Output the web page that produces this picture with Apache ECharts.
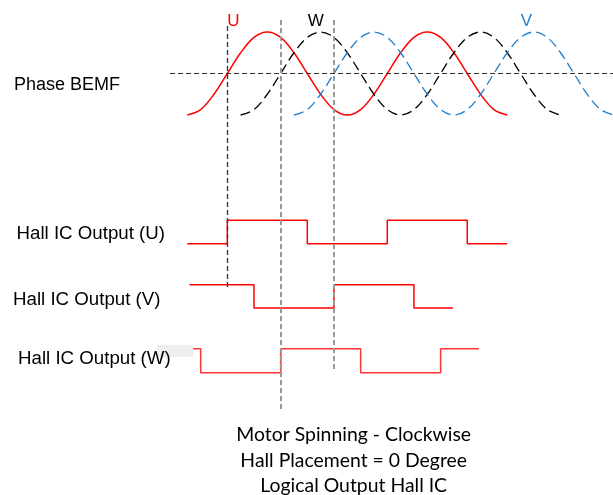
<!DOCTYPE html>
<html>
<head>
<meta charset="utf-8">
<script src="https://cdn.jsdelivr.net/npm/echarts@6/dist/echarts.min.js"></script>
<style>html,body{margin:0;padding:0;background:#fff}#c{width:613px;height:495px}</style>
</head>
<body>
<div id="c"></div>
<script>
// ---- data (electrical degrees) ----
const angles = [-90,-60,-30,0,30,60,90,120,150,180,210,240,270,300,330,360,390,420,450,480,510,540,570,600,630,660,690,720,750,780,810,840,870];
const bemfU = [-1,-0.87,-0.5,0,0.5,0.87,1,0.87,0.5,0,-0.5,-0.87,-1,-0.87,-0.5,0,0.5,0.87,1,0.87,0.5,0,-0.5,-0.87,-1,null,null,null,null,null,null,null,null];
const bemfW = [null,null,null,null,-1,-0.87,-0.5,0,0.5,0.87,1,0.87,0.5,0,-0.5,-0.87,-1,-0.87,-0.5,0,0.5,0.87,1,0.87,0.5,0,-0.5,-0.87,-1,null,null,null,null];
const bemfV = [null,null,null,null,null,null,null,null,-1,-0.87,-0.5,0,0.5,0.87,1,0.87,0.5,0,-0.5,-0.87,-1,-0.87,-0.5,0,0.5,0.87,1,0.87,0.5,0,-0.5,-0.87,-1];
const hallUAngles = [-90,0,180,360,540,630];
const hallULevels = [0,1,0,1,0,0];
const hallVAngles = [-85,60,240,420,508];
const hallVLevels = [1,0,1,0,0];
const hallWAngles = [-77,-60,120,300,480,566];
const hallWLevels = [1,0,1,0,1,1];
const markAngles = [0,120,240];
const phaseNames = ['U','W','V'];
const rowLabels = ['Phase BEMF','Hall IC Output (U)','Hall IC Output (V)','Hall IC Output (W)'];
const captionLines = ['Motor Spinning - Clockwise','Hall Placement = 0 Degree','Logical Output Hall IC'];

// ---- layout (pixel rows on an inverted y axis) ----
const bemfCenter = 73.5, bemfAmp = 41.5;
const rows = {U:{low:243.7,high:220.3}, V:{low:308,high:284.7}, W:{low:372.7,high:348.7}};
const RED = '#ff0000', BLUE = '#1f7fcf';

function bemfData(vals){ return angles.map((a,i)=> vals[i]===null ? [a,null] : [a, bemfCenter - vals[i]*bemfAmp]); }
function hallData(ang, lev, row){ return ang.map((a,i)=>[a, lev[i] ? row.high : row.low]); }

const chart = echarts.init(document.getElementById('c'), null, {renderer:'canvas'});
const txt = (t, x, y, opts) => Object.assign({type:'text', style:Object.assign({text:t, x:x, y:y, fill:'#000', font:'18px "Liberation Sans", Arial, sans-serif', textVerticalAlign:'middle'}, opts||{})});
const hallFont = '18.7px "Liberation Sans", Arial, sans-serif';
const capFont = '19.4px Lato, sans-serif';

chart.setOption({
  animation:false,
  grid:{left:170, right:0, top:0, bottom:0},
  xAxis:{type:'value', min:-129, max:868, show:false},
  yAxis:{type:'value', min:0, max:495, inverse:true, show:false},
  series:[
    {type:'line', data:bemfData(bemfU), smooth:0.35, showSymbol:false, connectNulls:false,
     lineStyle:{color:RED, width:1.5},
     markLine:{silent:true, symbol:'none', label:{show:false},
       data:[
         {yAxis:bemfCenter, lineStyle:{color:'#333', width:1, type:[5,3]}},
         [{coord:[markAngles[0],26], lineStyle:{color:'#333', width:1.3, type:[5,3]}},{coord:[markAngles[0],288]}],
         [{coord:[markAngles[1],20], lineStyle:{color:'#999', width:2, type:[5,3]}},{coord:[markAngles[1],410]}],
         [{coord:[markAngles[2],20], lineStyle:{color:'#999', width:2, type:[5,3]}},{coord:[markAngles[2],369]}]
       ]}},
    {type:'line', data:bemfData(bemfW), smooth:0.35, showSymbol:false, connectNulls:false,
     lineStyle:{color:'#000', width:1.3, type:[10,5]}},
    {type:'line', data:bemfData(bemfV), smooth:0.35, showSymbol:false, connectNulls:false,
     lineStyle:{color:BLUE, width:1.3, type:[10,5]}},
    {type:'line', step:'end', data:hallData(hallUAngles,hallULevels,rows.U), showSymbol:false, lineStyle:{color:RED, width:1.5}},
    {type:'line', step:'end', data:hallData(hallVAngles,hallVLevels,rows.V), showSymbol:false, lineStyle:{color:RED, width:1.5}},
    {type:'line', step:'end', data:hallData(hallWAngles,hallWLevels,rows.W), showSymbol:false, lineStyle:{color:'#ff3333', width:1.5}}
  ],
  graphic:[
    {type:'rect', shape:{x:157, y:345, width:36, height:12}, style:{fill:'#eeeeee'}, z:-1},
    txt(rowLabels[0], 14, 85),
    txt(rowLabels[1], 16.5, 234, {font:hallFont}),
    txt(rowLabels[2], 13, 299.5, {font:hallFont}),
    txt(rowLabels[3], 18, 359, {font:hallFont}),
    txt(phaseNames[0], 233.5, 21, {fill:RED, font:'17px "Liberation Sans", Arial, sans-serif', textAlign:'center'}),
    txt(phaseNames[1], 315.7, 21, {fill:'#000', font:'17px "Liberation Sans", Arial, sans-serif', textAlign:'center'}),
    txt(phaseNames[2], 526.3, 21, {fill:BLUE, font:'17px "Liberation Sans", Arial, sans-serif', textAlign:'center'}),
    txt(captionLines[0], 353.7, 435, {font:capFont, textAlign:'center'}),
    txt(captionLines[1], 353.7, 461, {font:capFont, textAlign:'center'}),
    txt(captionLines[2], 353.7, 486, {font:capFont, textAlign:'center'})
  ]
});
</script>
</body>
</html>
